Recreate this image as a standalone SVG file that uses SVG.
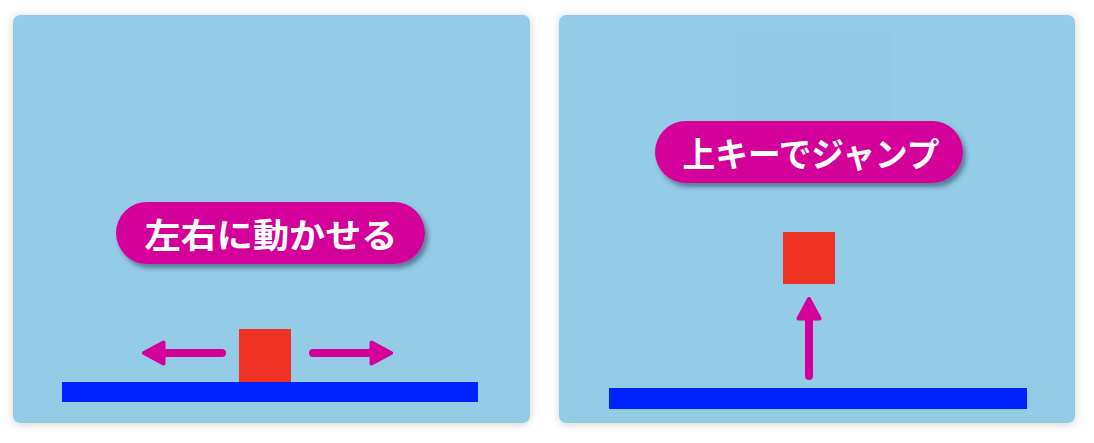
<svg xmlns="http://www.w3.org/2000/svg" width="1094" height="443" viewBox="0 0 1094 443">
<defs>
<filter id="panelShadow" x="-5%" y="-5%" width="110%" height="110%">
<feDropShadow dx="0" dy="1" stdDeviation="4" flood-color="#000" flood-opacity="0.18"/>
</filter>
<filter id="pillShadow" x="-10%" y="-20%" width="120%" height="150%">
<feDropShadow dx="3" dy="4" stdDeviation="2.5" flood-color="#1a3a55" flood-opacity="0.55"/>
</filter>
<marker id="head" viewBox="0 0 24 26" refX="4" refY="13" markerWidth="24" markerHeight="26" markerUnits="userSpaceOnUse" orient="auto">
<path d="M2.5,2.5 L22,13 L2.5,23.5 Z" fill="#D4009A" stroke="#D4009A" stroke-width="4" stroke-linejoin="round"/>
</marker>
<style>
.panel{fill:#94CCE7;}
.pill{fill:#D4009A;}
.label{font-family:"Noto Sans CJK JP","Noto Sans",sans-serif;font-weight:bold;font-size:34px;fill:#fff;text-anchor:middle;dominant-baseline:central;}
.box{fill:#EE3224;}
.ground{fill:#0022FF;}
.arrow{stroke:#D4009A;stroke-width:8;stroke-linecap:round;fill:none;marker-end:url(#head);}
</style>
</defs>
<rect width="1094" height="443" fill="#ffffff"/>
<g id="panel-left">
<rect class="panel" x="13" y="15" width="517" height="408" rx="7" filter="url(#panelShadow)"/>
<rect class="ground" x="62" y="382" width="416" height="20"/>
<rect class="box" x="239" y="329" width="52" height="53"/>
<g id="pill-left">
<rect class="pill" x="116" y="202" width="309" height="62" rx="31" filter="url(#pillShadow)"/>
<text class="label" x="271" y="233" textLength="253" lengthAdjust="spacingAndGlyphs">左右に動かせる</text>
</g>
</g>
<g id="panel-right">
<rect class="panel" x="559" y="15" width="516" height="408" rx="7" filter="url(#panelShadow)"/>
<rect x="736" y="33" width="154" height="88" fill="#92C9E5"/>
<rect class="ground" x="609" y="388" width="418" height="21"/>
<rect class="box" x="783" y="232" width="52" height="52"/>
<g id="pill-right">
<rect class="pill" x="655" y="121" width="308" height="62" rx="31" filter="url(#pillShadow)"/>
<text class="label" x="811" y="152" textLength="257" lengthAdjust="spacingAndGlyphs">上キーでジャンプ</text>
</g>
</g>
<g id="connectors">
<line class="arrow" x1="222" y1="353" x2="162" y2="353"/>
<line class="arrow" x1="313" y1="353" x2="373" y2="353"/>
<line class="arrow" x1="809" y1="376" x2="809" y2="317"/>
</g>
</svg>
